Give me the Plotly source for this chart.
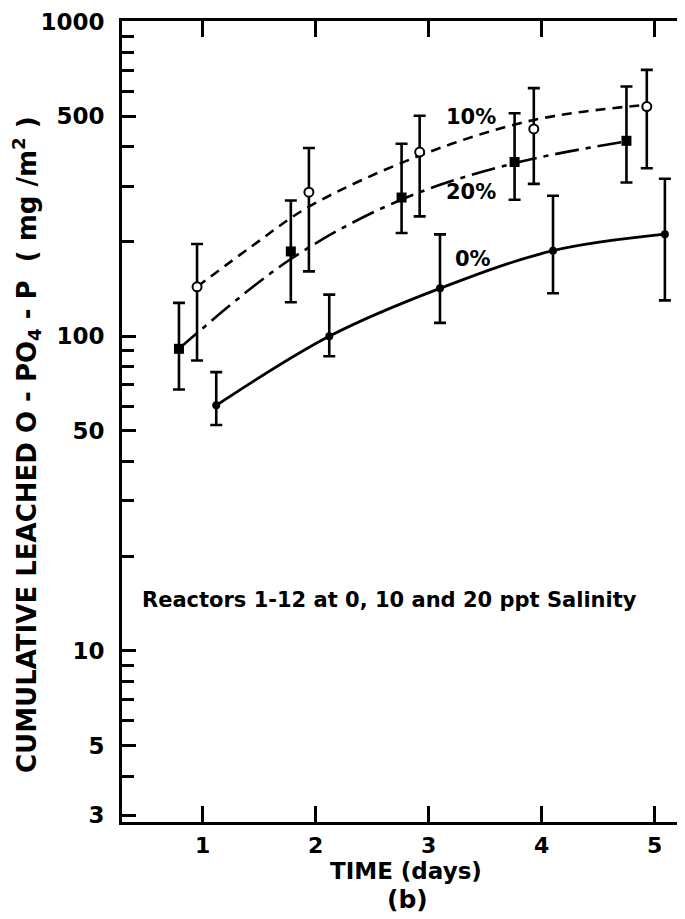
import numpy as np
import plotly.graph_objects as go

# measured points (days, mg/m2) with asymmetric error bars
x0 = [1.12, 2.12, 3.10, 4.10, 5.09]
y0 = [60.3, 100, 142, 187, 211]
hi0 = [76.9, 135.6, 210.8, 279.6, 316.7]
lo0 = [52.2, 86.4, 110.3, 137, 130]

x10 = [0.95, 1.94, 2.92, 3.93, 4.93]
y10 = [143.6, 287, 385, 456, 537]
hi10 = [196.5, 396.5, 502, 614.6, 702.6]
lo10 = [83.7, 160.8, 240.4, 305, 342]

x20 = [0.79, 1.78, 2.76, 3.76, 4.75]
y20 = [91.2, 186, 276, 358, 418]
hi20 = [127.7, 270.2, 409, 511.6, 621.8]
lo20 = [67.7, 128.2, 213, 271.6, 308]

# fitted curves as drawn
cx0 = [1.12, 2.12, 3.10, 4.10, 5.09]
cy0 = [60.3, 100, 142, 187, 211]
cx10 = [0.95, 1.45, 1.94, 2.92, 3.93, 4.93]
cy10 = [143.6, 195, 258, 375, 487, 544]
cx20 = [0.79, 1.78, 2.76, 3.76, 4.75]
cy20 = [91.2, 176, 272, 355, 416]

ytick_vals = [3, 5, 10, 50, 100, 500, 1000]
ytick_text = ["3", "5", "10", "50", "100", "500", "1000"]
ydecades = [10, 100, 1000]
yminor = [4, 6, 7, 8, 9, 20, 30, 40, 60, 70, 80, 90, 200, 300, 400, 600, 700, 800, 900]
xtick_vals = [1, 2, 3, 4, 5]

FONT = "DejaVu Sans"
BLACK = "black"


def err(y, hi, lo):
    return dict(type="data", symmetric=False,
                array=[h - v for h, v in zip(hi, y)],
                arrayminus=[v - l for v, l in zip(y, lo)],
                color=BLACK, thickness=2.6, width=6)


def bold(t):
    return "<b>" + t + "</b>"


# page pixel -> paper fraction (plot area spans x 122..685, y 20..821 on the page)
def px(x):
    return (x - 122) / 563


def py(y):
    return (821 - y) / 801


fig = go.Figure()

# curves
fig.add_trace(go.Scatter(x=cx0, y=cy0, mode="lines", line=dict(color=BLACK, width=2.8, shape="spline"),
                         showlegend=False, hoverinfo="skip"))
fig.add_trace(go.Scatter(x=cx10, y=cy10, mode="lines",
                         line=dict(color=BLACK, width=2.6, shape="spline", dash="10px,7px"),
                         showlegend=False, hoverinfo="skip"))
fig.add_trace(go.Scatter(x=cx20, y=cy20, mode="lines",
                         line=dict(color=BLACK, width=2.6, shape="spline", dash="24px,7px,5px,7px"),
                         showlegend=False, hoverinfo="skip"))

# points
fig.add_trace(go.Scatter(x=x0, y=y0, mode="markers", error_y=err(y0, hi0, lo0),
                         marker=dict(symbol="circle", size=8, color=BLACK), showlegend=False))
fig.add_trace(go.Scatter(x=x10, y=y10, mode="markers", error_y=err(y10, hi10, lo10),
                         marker=dict(symbol="circle", size=9, color="white", line=dict(color=BLACK, width=2)),
                         showlegend=False))
fig.add_trace(go.Scatter(x=x20, y=y20, mode="markers", error_y=err(y20, hi20, lo20),
                         marker=dict(symbol="square", size=10, color=BLACK), showlegend=False))

yr = [0.456, 3.002]
# the page body keeps an 8px margin, so the figure is 8px smaller than the window
fig.update_layout(
    width=677, height=911,
    margin=dict(l=114, r=0, t=13, b=97),
    paper_bgcolor="white", plot_bgcolor="white",
    font=dict(family=FONT, color=BLACK),
    xaxis=dict(range=[0.286, 5.268], tickvals=xtick_vals, ticktext=[bold(str(v)) for v in xtick_vals],
               ticks="inside", ticklen=16, tickwidth=2.5, automargin=False,
               tickcolor=BLACK, showline=True, linewidth=3, linecolor=BLACK, mirror="ticks",
               showgrid=False, zeroline=False, tickfont=dict(size=22, family=FONT), ticklabelstandoff=2),
    yaxis=dict(type="log", range=yr, tickvals=ytick_vals, ticktext=[bold(t) for t in ytick_text],
               ticks="inside", automargin=False, ticklabeloverflow="allow",
               ticklen=14, tickwidth=2.5, tickcolor=BLACK, showline=True, linewidth=3, linecolor=BLACK,
               showgrid=False, zeroline=False, tickfont=dict(size=23, family=FONT), ticklabelstandoff=10,
               minor=dict(tickvals=yminor, ticks="inside", ticklen=12, tickwidth=2.5, tickcolor=BLACK,
                          showgrid=False)),
    yaxis2=dict(type="log", range=yr, overlaying="y", side="right", tickvals=ydecades, ticks="inside",
                ticklen=22, tickwidth=2.5, tickcolor=BLACK, showline=False, showticklabels=False,
                showgrid=False, zeroline=False, automargin=False,
                minor=dict(tickvals=yminor, ticks="inside", ticklen=9, tickwidth=2.5, tickcolor=BLACK,
                           showgrid=False)),
    yaxis3=dict(type="log", range=yr, overlaying="y", side="left", tickvals=ydecades, ticks="inside",
                ticklen=24, tickwidth=2.5, tickcolor=BLACK, showline=False, showticklabels=False,
                showgrid=False, zeroline=False, automargin=False),
)

labels = [("10%", 3.37, 498), ("20%", 3.37, 288), ("0%", 3.39, 176)]
for txt, lx, ly in labels:
    fig.add_annotation(x=lx, y=np.log10(ly), xref="x", yref="y", text=bold(txt), showarrow=False,
                       xanchor="center", yanchor="middle", font=dict(size=21, family=FONT, color=BLACK))

texts = [
    ("Reactors 1-12 at 0, 10 and 20 ppt Salinity", 389, 599, 21, 0),
    ("TIME (days)", 406, 870, 23, 0),
    ("(b)", 407, 898, 25, 0),
    ("CUMULATIVE LEACHED O - PO<sub>4</sub> - P  ( mg /m<sup>2</sup> )", 27, 444, 26, -90),
]
for txt, tx, ty, size, ang in texts:
    fig.add_annotation(x=px(tx), y=py(ty), xref="paper", yref="paper", text=bold(txt), showarrow=False,
                       xanchor="center", yanchor="middle", textangle=ang,
                       font=dict(size=size, family=FONT, color=BLACK))

fig.write_html("out.html")
